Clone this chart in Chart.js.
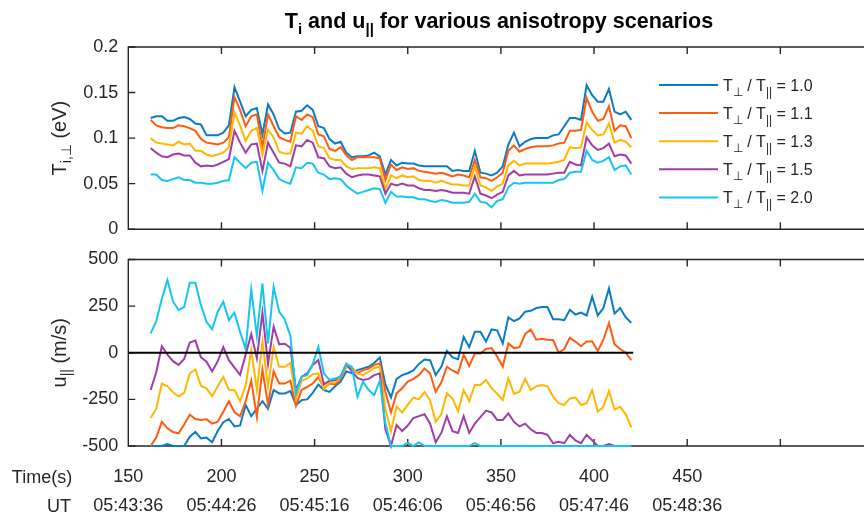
<!DOCTYPE html>
<html>
<head>
<meta charset="utf-8">
<script src="https://cdn.jsdelivr.net/npm/chart.js@4"></script>
<style>
  html, body { margin: 0; padding: 0; background: #fff; overflow: hidden; }
  #wrap { position: relative; width: 864px; height: 517px; }
  canvas { position: absolute; left: 0; }
  #topChart { top: 0; }
  #botChart { top: 230px; }
</style>
</head>
<body>
<div id="wrap">
  <canvas id="topChart" width="864" height="250"></canvas>
  <canvas id="botChart" width="864" height="287"></canvas>
</div>
<script>
// ---- data ---------------------------------------------------------------
const times = [162,165,168,171,174,177,180,183,186,189,192,195,198,201,204,207,210,213,216,219,
  222,225,228,231,234,237,240,243,246,249,252,255,258,261,264,267,270,273,276,279,
  282,285,288,291,294,297,300,303,306,309,312,315,318,321,324,327,330,333,336,339,
  342,345,348,351,354,357,360,363,366,369,372,375,378,381,384,387,390,393,396,399,
  402,405,408,411,414,417,420];

const ratios = ['1.0', '1.1', '1.3', '1.5', '2.0'];

// perpendicular ion temperature (eV) for each anisotropy ratio
const tPerp10 = [0.122,0.124,0.124,0.119,0.119,0.122,0.123,0.121,0.116,0.115,
  0.103,0.103,0.103,0.106,0.114,0.156,0.140,0.124,0.131,0.133,
  0.104,0.137,0.126,0.110,0.105,0.106,0.129,0.130,0.136,0.131,
  0.113,0.111,0.099,0.094,0.096,0.084,0.079,0.080,0.080,0.081,
  0.084,0.080,0.060,0.076,0.070,0.073,0.072,0.072,0.070,0.069,
  0.069,0.069,0.069,0.069,0.064,0.065,0.064,0.064,0.086,0.062,
  0.061,0.059,0.062,0.069,0.093,0.106,0.091,0.096,0.099,0.100,
  0.100,0.100,0.103,0.104,0.113,0.122,0.122,0.120,0.158,0.147,
  0.140,0.140,0.154,0.129,0.126,0.129,0.120];
const tPerp11 = [0.120,0.114,0.112,0.111,0.111,0.114,0.113,0.111,0.108,0.099,
  0.095,0.094,0.093,0.095,0.101,0.145,0.131,0.113,0.124,0.126,
  0.090,0.126,0.113,0.101,0.098,0.096,0.124,0.120,0.126,0.123,
  0.104,0.102,0.088,0.086,0.090,0.081,0.076,0.079,0.079,0.079,
  0.079,0.078,0.054,0.071,0.065,0.068,0.066,0.067,0.064,0.063,
  0.062,0.061,0.062,0.060,0.058,0.060,0.059,0.057,0.076,0.057,
  0.056,0.053,0.057,0.062,0.086,0.092,0.085,0.088,0.090,0.091,
  0.091,0.091,0.092,0.094,0.095,0.108,0.108,0.109,0.144,0.129,
  0.119,0.121,0.135,0.108,0.114,0.113,0.100];
const tPerp13 = [0.100,0.095,0.094,0.093,0.092,0.096,0.093,0.094,0.086,0.086,
  0.082,0.080,0.082,0.084,0.090,0.128,0.114,0.097,0.108,0.111,
  0.082,0.109,0.101,0.085,0.083,0.083,0.106,0.105,0.113,0.108,
  0.091,0.089,0.078,0.076,0.076,0.069,0.066,0.067,0.067,0.067,
  0.068,0.067,0.044,0.059,0.056,0.059,0.057,0.058,0.054,0.053,
  0.053,0.051,0.053,0.051,0.049,0.049,0.048,0.048,0.069,0.048,
  0.046,0.042,0.047,0.050,0.070,0.075,0.070,0.072,0.072,0.072,
  0.072,0.072,0.073,0.074,0.076,0.090,0.089,0.090,0.117,0.109,
  0.103,0.104,0.116,0.095,0.098,0.096,0.090];
const tPerp15 = [0.089,0.084,0.080,0.079,0.082,0.083,0.081,0.081,0.073,0.069,
  0.070,0.069,0.071,0.074,0.077,0.108,0.095,0.084,0.093,0.094,
  0.064,0.095,0.084,0.073,0.072,0.069,0.092,0.091,0.098,0.095,
  0.079,0.078,0.069,0.067,0.068,0.061,0.057,0.059,0.060,0.060,
  0.059,0.058,0.039,0.050,0.048,0.050,0.048,0.048,0.045,0.043,
  0.043,0.042,0.043,0.042,0.040,0.040,0.040,0.039,0.058,0.039,
  0.037,0.034,0.038,0.041,0.059,0.064,0.059,0.060,0.060,0.060,
  0.060,0.060,0.061,0.062,0.062,0.074,0.071,0.070,0.101,0.092,
  0.087,0.089,0.094,0.080,0.082,0.081,0.072];
const tPerp20 = [0.060,0.060,0.054,0.053,0.055,0.057,0.054,0.054,0.051,0.051,
  0.050,0.050,0.051,0.053,0.054,0.079,0.073,0.067,0.073,0.074,
  0.042,0.073,0.065,0.055,0.052,0.050,0.068,0.067,0.073,0.072,
  0.062,0.060,0.055,0.056,0.055,0.048,0.043,0.039,0.041,0.043,
  0.045,0.044,0.029,0.041,0.036,0.036,0.035,0.035,0.033,0.033,
  0.031,0.030,0.032,0.031,0.029,0.029,0.029,0.030,0.039,0.030,
  0.029,0.024,0.031,0.033,0.046,0.051,0.050,0.051,0.051,0.051,
  0.051,0.051,0.051,0.054,0.055,0.062,0.063,0.063,0.086,0.076,
  0.073,0.075,0.079,0.065,0.069,0.070,0.060];

// parallel ion velocity (m/s) for each anisotropy ratio
const uPar10 = [-500,-500,-500,-490,-500,-500,-500,-450,-425,-459,
  -455,-480,-420,-372,-355,-395,-390,-280,-340,-300,
  -260,-300,-200,-218,-218,-205,-280,-254,-250,-215,
  -170,-200,-210,-180,-155,-100,-110,-93,-84,-75,
  -55,-25,-170,-240,-140,-120,-110,-95,-60,-36,
  -40,-120,-75,10,-25,-35,85,30,112,112,
  60,125,120,50,190,170,184,220,225,240,
  245,245,180,180,175,230,205,215,200,300,
  200,240,345,210,240,190,160];
const uPar11 = [-500,-455,-370,-405,-425,-432,-385,-332,-355,-360,
  -357,-380,-370,-316,-260,-320,-340,-260,-150,-345,
  -90,-280,-100,-165,-165,-150,-285,-200,-183,-165,
  -130,-190,-165,-170,-140,-75,-80,-110,-93,-85,
  -65,-57,-210,-320,-218,-190,-155,-140,-120,-85,
  -110,-210,-160,-75,-95,-110,-10,-70,-4,-4,
  20,25,-20,-75,50,25,30,100,125,70,
  75,70,68,0,20,80,60,35,60,60,
  10,70,160,45,20,0,-40];
const uPar13 = [-350,-300,-165,-180,-212,-235,-215,-110,-90,-178,
  -191,-234,-180,-130,-198,-200,-260,-175,15,-200,
  60,-180,30,-75,-75,-55,-245,-150,-138,-115,
  -111,-195,-160,-160,-130,-75,-84,-112,-120,-102,
  -82,-75,-300,-420,-289,-320,-280,-240,-250,-210,
  -255,-370,-330,-218,-245,-315,-200,-260,-173,-173,
  -146,-190,-220,-254,-138,-220,-209,-140,-200,-180,
  -173,-180,-235,-270,-280,-245,-240,-280,-270,-200,
  -316,-290,-205,-305,-290,-330,-400];
const uPar15 = [-200,-105,35,-10,-45,-65,-33,55,65,-25,
  -48,-100,-45,30,-40,-80,-118,-10,100,-30,
  215,-60,140,45,48,27,-200,-130,-110,-65,
  -39,-170,-150,-146,-125,-60,-100,-135,-146,-140,
  -120,-111,-410,-500,-388,-420,-390,-350,-340,-330,
  -380,-480,-430,-340,-420,-430,-340,-430,-380,-345,
  -310,-320,-360,-360,-325,-370,-395,-380,-410,-430,
  -430,-440,-485,-477,-485,-440,-470,-485,-440,-470,
  -500,-500,-489,-500,-500,-500,-500];
const uPar20 = [104,170,290,390,275,229,245,375,375,255,
  166,125,220,273,175,215,112,20,340,90,
  371,50,354,220,179,90,-218,-129,-120,-61,
  32,-111,-146,-138,-129,-61,-75,-236,-155,-200,
  -227,-150,-379,-500,-500,-500,-482,-500,-480,-500,
  -500,-500,-500,-500,-500,-500,-500,-500,-485,-500,
  -500,-500,-500,-500,-500,-500,-500,-500,-500,-500,
  -500,-500,-500,-500,-500,-500,-500,-500,-500,-500,
  -500,-500,-500,-500,-500,-500,-500];

// reference line u = 0
const zeroLineX = [150, 421];
const zeroLineY = [0, 0];

// time axis labels
const timeTicks = [150, 200, 250, 300, 350, 400, 450];
const utLabels = ['05:43:36', '05:44:26', '05:45:16', '05:46:06', '05:46:56', '05:47:46', '05:48:36'];

// ---- styling -----------------------------------------------------------
const palette = ['#0b7cc1', '#ff5c12', '#ffb700', '#a03ea6', '#14c6f0'];
const FONT = '"Liberation Sans", Arial, Helvetica, sans-serif';
const INK = '#262626';
const X_MIN = 150, X_MAX = 544.9;
const AXIS_W = 128.3;

const toPoints = (xs, ys) => xs.map((x, i) => ({ x, y: ys[i] }));

function seriesSets(list) {
  return list.map((vals, i) => ({
    label: 'T\u22a5/T\u2225 = ' + ratios[i],
    data: toPoints(times, vals),
    borderColor: palette[i],
    borderWidth: 2,
    pointRadius: 0,
    tension: 0,
    fill: false,
    clip: false,
    order: list.length - i
  }));
}

// draw a string made of normal and subscript runs
function runsWidth(ctx, runs, main, sub) {
  let w = 0;
  runs.forEach(r => { ctx.font = r.sub ? sub : main; w += ctx.measureText(r.t).width; });
  return w;
}
function drawRuns(ctx, runs, x, y, main, sub, drop) {
  let cx = x;
  runs.forEach(r => {
    ctx.font = r.sub ? sub : main;
    ctx.fillText(r.t, cx, y + (r.sub ? drop : 0));
    cx += ctx.measureText(r.t).width;
  });
}

// axes box with inward tick marks
function drawFrame(chart) {
  const { ctx, chartArea: a, scales } = chart;
  const xs = scales.x, ys = scales.y;
  const L = 7;
  ctx.save();
  ctx.strokeStyle = INK;
  ctx.lineWidth = 1.4;
  ctx.beginPath();
  ctx.moveTo(a.right + 2, a.top);
  ctx.lineTo(a.left, a.top);
  ctx.lineTo(a.left, a.bottom);
  ctx.lineTo(a.right + 2, a.bottom);
  ctx.stroke();
  ctx.beginPath();
  xs.ticks.forEach(t => {
    if (t.value % 50 !== 0 || t.value <= X_MIN) return;
    const px = xs.getPixelForValue(t.value);
    ctx.moveTo(px, a.top); ctx.lineTo(px, a.top + L);
    ctx.moveTo(px, a.bottom); ctx.lineTo(px, a.bottom - L);
  });
  ys.ticks.forEach(t => {
    const py = ys.getPixelForValue(t.value);
    ctx.moveTo(a.left, py); ctx.lineTo(a.left + L, py);
  });
  ctx.stroke();
  ctx.restore();
}

function drawYTitle(chart, runs) {
  const { ctx, chartArea: a } = chart;
  const main = '20px ' + FONT, sub = '14px ' + FONT;
  ctx.save();
  ctx.fillStyle = INK;
  ctx.textBaseline = 'alphabetic';
  ctx.textAlign = 'left';
  const w = runsWidth(ctx, runs, main, sub);
  ctx.translate(66, (a.top + a.bottom) / 2);
  ctx.rotate(-Math.PI / 2);
  drawRuns(ctx, runs, -w / 2, 0, main, sub, 5);
  ctx.restore();
}

const frameAxes = {
  id: 'frameAxes',
  beforeDatasetsDraw(chart) { drawFrame(chart); }
};

const topText = {
  id: 'topText',
  afterDraw(chart) {
    const ctx = chart.ctx;
    // title
    const titleRuns = [{ t: 'T' }, { t: 'i', sub: true }, { t: ' and u' }, { t: '||', sub: true },
      { t: ' for various anisotropy scenarios' }];
    const tMain = 'bold 21.5px ' + FONT, tSub = 'bold 15px ' + FONT;
    ctx.save();
    ctx.fillStyle = '#000';
    ctx.textAlign = 'left';
    ctx.textBaseline = 'alphabetic';
    const tw = runsWidth(ctx, titleRuns, tMain, tSub);
    drawRuns(ctx, titleRuns, 499 - tw / 2, 28, tMain, tSub, 6);
    ctx.restore();

    drawYTitle(chart, [{ t: 'T' }, { t: 'i,\u22a5', sub: true }, { t: ' (eV)' }]);

    // legend
    const lMain = '16px ' + FONT, lSub = '12px ' + FONT;
    ctx.save();
    ctx.textAlign = 'left';
    ctx.textBaseline = 'alphabetic';
    ratios.forEach((r, i) => {
      const y = 85 + i * 28.1;
      ctx.strokeStyle = palette[i];
      ctx.lineWidth = 2;
      ctx.beginPath();
      ctx.moveTo(659, y); ctx.lineTo(718, y);
      ctx.stroke();
      ctx.fillStyle = INK;
      drawRuns(ctx, [{ t: 'T' }, { t: '\u22a5', sub: true }, { t: ' / T' }, { t: '||', sub: true }, { t: ' = ' + r }],
        723, y + 5.5, lMain, lSub, 5);
    });
    ctx.restore();
  }
};

const botText = {
  id: 'botText',
  afterDraw(chart) {
    const ctx = chart.ctx;
    drawYTitle(chart, [{ t: 'u' }, { t: '||', sub: true }, { t: ' (m/s)' }]);
    ctx.save();
    ctx.fillStyle = INK;
    ctx.font = '18px ' + FONT;
    ctx.textAlign = 'center';
    ctx.textBaseline = 'middle';
    ctx.fillText('Time(s)', 42, 248);
    ctx.fillText('UT', 59, 277);
    ctx.restore();
  }
};

function yAxis(min, max, step, fmt) {
  return {
    type: 'linear', min, max,
    grid: { display: false, drawTicks: false },
    border: { display: false },
    ticks: { stepSize: step, padding: 10, color: INK, font: { family: FONT, size: 18 }, callback: fmt },
    afterFit(s) { s.width = AXIS_W; }
  };
}

Chart.defaults.font.family = FONT;

new Chart(document.getElementById('topChart'), {
  type: 'line',
  data: { datasets: seriesSets([tPerp10, tPerp11, tPerp13, tPerp15, tPerp20]) },
  options: {
    responsive: false,
    animation: false,
    layout: { padding: { top: 47, left: 0, right: 0, bottom: 0 } },
    plugins: { legend: { display: false }, tooltip: { enabled: false }, title: { display: false } },
    scales: {
      x: {
        type: 'linear', min: X_MIN, max: X_MAX,
        grid: { display: false, drawTicks: false },
        border: { display: false },
        ticks: { display: false, stepSize: 50, includeBounds: false },
        afterFit(s) { s.height = 16; }
      },
      y: yAxis(0, 0.2, 0.05, v => String(+v.toFixed(2)))
    }
  },
  plugins: [frameAxes, topText]
});

const botSets = seriesSets([uPar10, uPar11, uPar13, uPar15, uPar20]);
botSets.push({
  label: 'zero',
  data: toPoints(zeroLineX, zeroLineY),
  borderColor: '#000',
  borderWidth: 2,
  pointRadius: 0,
  order: -1
});

new Chart(document.getElementById('botChart'), {
  type: 'line',
  data: { datasets: botSets },
  options: {
    responsive: false,
    animation: false,
    layout: { padding: { top: 29.5, left: 0, right: 0, bottom: 0 } },
    plugins: { legend: { display: false }, tooltip: { enabled: false } },
    scales: {
      x: {
        type: 'linear', min: X_MIN, max: X_MAX,
        grid: { display: false, drawTicks: false },
        border: { display: false },
        ticks: {
          stepSize: 50, includeBounds: false, autoSkip: false, maxRotation: 0, minRotation: 0,
          padding: 17, color: INK, font: { family: FONT, size: 18, lineHeight: '29px' },
          callback(v) {
            const i = timeTicks.indexOf(v);
            return i < 0 ? '' : [String(v), utLabels[i]];
          }
        },
        afterFit(s) { s.height = 71; }
      },
      y: yAxis(-500, 500, 250, v => String(v))
    }
  },
  plugins: [frameAxes, botText]
});
</script>
</body>
</html>
